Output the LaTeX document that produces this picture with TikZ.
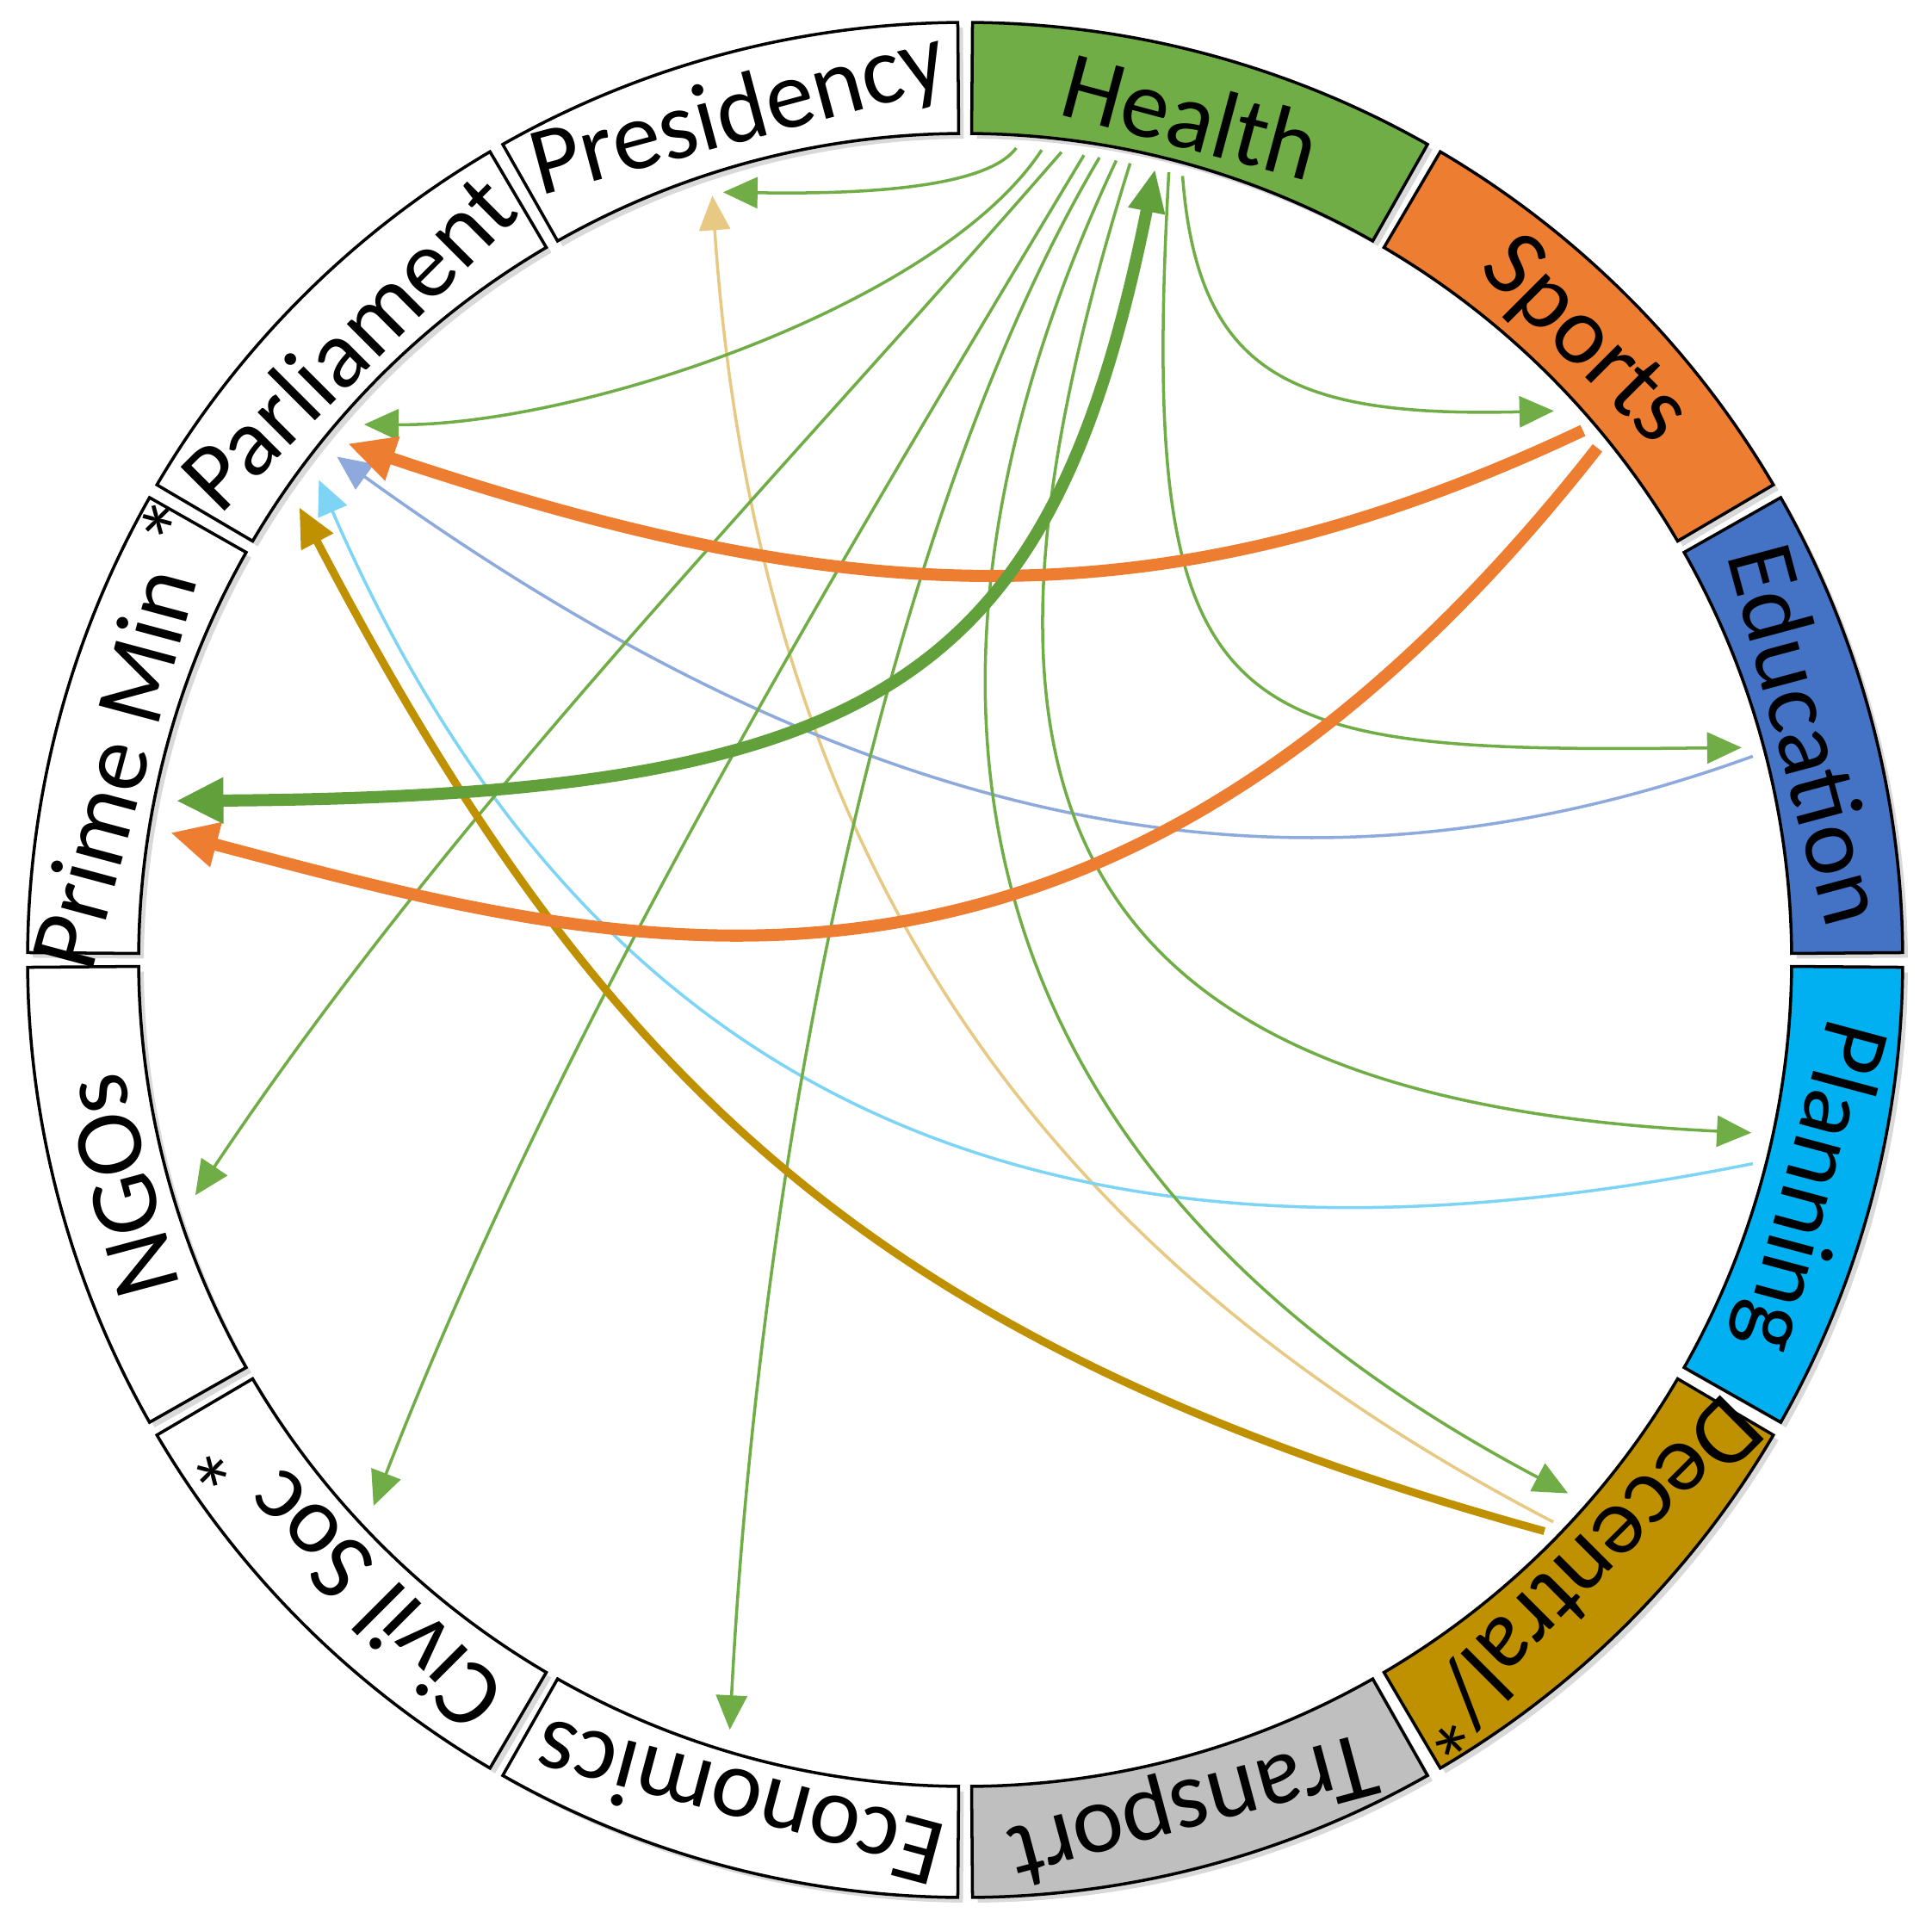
\documentclass[tikz,border=0pt]{standalone}
\usepackage{fontspec}
\setmainfont{Carlito}
\usetikzlibrary{arrows.meta,shadows}
\definecolor{hgreen}{HTML}{70AD47}
\definecolor{dgreen}{HTML}{62A03C}
\definecolor{sorange}{HTML}{ED7D31}
\definecolor{eblue}{HTML}{4472C4}
\definecolor{pcyan}{HTML}{00B0F0}
\definecolor{dgold}{HTML}{BF9000}
\definecolor{tgrey}{HTML}{BFBFBF}
\definecolor{lblue}{HTML}{8EA9DB}
\definecolor{lcyan}{HTML}{7DD4F5}
\definecolor{lgold}{HTML}{E8C984}
\tikzset{
  seg/.style={draw=black, line width=1pt,
    drop shadow={opacity=0.3, shadow xshift=0.06cm, shadow yshift=-0.06cm}},
  seglabel/.style={font=\fontsize{32}{38}\selectfont, anchor=center},
  thinchord/.style={line width=1pt, -{Triangle[length=0.4cm,width=0.36cm]}},
  thickchord/.style={line width=4pt, -{Triangle[length=0.55cm,width=0.5cm]}},
  midchord/.style={line width=2.6pt, -{Triangle[length=0.45cm,width=0.4cm]}},
}
\begin{document}
\begin{tikzpicture}
  \useasboundingbox (-11.21,-11.13) rectangle (11.23,11.15);
  \foreach \a/\lab/\col/\nm in {90/Health/hgreen/hea, 60/Sports/sorange/spo,
      30/Education/eblue/edu, 0/Planning/pcyan/pla, -30/{Decentral/*}/dgold/dec,
      -60/Transport/tgrey/tra, -90/Economics/white/eco, -120/{Civil Soc *}/white/civ,
      -150/NGOs/white/ngo, 180/{Prime Min *}/white/pri, 150/Parliament/white/par,
      120/Presidency/white/pre} {
    \draw[seg, fill=\col] (\a-0.45:9.6) arc[start angle=\a-0.45, end angle=\a-29.55, radius=9.6]
      -- (\a-29.55:10.89) arc[start angle=\a-29.55, end angle=\a-0.45, radius=10.89] -- cycle;
    \node[seglabel, rotate=\a-105] (\nm) at (\a-15:10.15) {\lab};
  }
  \coordinate (hea-pre) at (86.4:9.45);
  \coordinate (hea-par) at (84.6:9.45);
  \coordinate (hea-ngo) at (83.2:9.45);
  \coordinate (hea-civ) at (81.6:9.45);
  \coordinate (hea-eco) at (80.5:9.45);
  \coordinate (hea-dec) at (79.3:9.45);
  \coordinate (hea-pla) at (78.3:9.45);
  \coordinate (hea-pri) at (76.5:9.45);
  \coordinate (hea-edu) at (75.5:9.45);
  \coordinate (hea-spo) at (74.5:9.45);
  \coordinate (spo-par) at (40.6:9.45);
  \coordinate (spo-pri) at (39:9.45);
  \coordinate (spo-hea) at (43:9.35);
  \coordinate (edu-par) at (14.5:9.45);
  \coordinate (edu-hea) at (15.3:9.35);
  \coordinate (pla-par) at (-14.5:9.45);
  \coordinate (pla-hea) at (-12.4:9.35);
  \coordinate (dec-par) at (-44.6:9.45);
  \coordinate (dec-pre) at (-43.7:9.45);
  \coordinate (dec-hea) at (-41.5:9.35);
  \coordinate (eco-hea) at (-107:9.35);
  \coordinate (civ-hea) at (-137.3:9.35);
  \coordinate (ngo-hea) at (-163:9.35);
  \coordinate (pri-hea) at (168.6:9.35);
  \coordinate (pri-spo) at (170.9:9.35);
  \coordinate (par-hea) at (138.3:9.35);
  \coordinate (par-spo) at (140.1:9.35);
  \coordinate (par-edu) at (141.3:9.35);
  \coordinate (par-pla) at (143.4:9.35);
  \coordinate (par-dec) at (145.8:9.35);
  \coordinate (pre-hea) at (107.5:9.35);
  \coordinate (pre-dec) at (108.3:9.35);

  \draw[thinchord, lgold] (dec-pre) .. controls (1.0,-3.5) and (-2.4,1.0) .. (pre-dec);
  \draw[thinchord, lblue] (edu-par) .. controls (4,0.5) and (-1,1.3) .. (par-edu);
  \draw[thinchord, lcyan] (pla-par) .. controls (2,-3.8) and (-4,-2.5) .. (par-pla);
  \draw[thinchord, hgreen] (hea-pre) .. controls (0.2,8.9) and (-1.6,8.9) .. (pre-hea);
  \draw[thinchord, hgreen] (hea-par) .. controls (-0.3,7.6) and (-4.5,6.2) .. (par-hea);
  \draw[thinchord, hgreen] (hea-ngo) .. controls (-2.3,5.45) and (-5.94,1.76) .. (ngo-hea);
  \draw[thinchord, hgreen] (hea-civ) .. controls (-1.67,4.27) and (-4.72,-0.81) .. (civ-hea);
  \draw[thinchord, hgreen] (hea-eco) .. controls (-1.0,5) and (-2.4,-2.5) .. (eco-hea);
  \draw[thinchord, hgreen] (hea-dec) .. controls (-1.2,3) and (0,-2.5) .. (dec-hea);
  \draw[thinchord, hgreen] (hea-pla) .. controls (-0.2,2.5) and (0.5,-1.6) .. (pla-hea);
  \draw[thinchord, hgreen] (hea-edu) .. controls (2.0,2.6) and (3,2.4) .. (edu-hea);
  \draw[thinchord, hgreen] (hea-spo) .. controls (2.7,6.8) and (3.8,6.3) .. (spo-hea);
  \draw[midchord, dgold] (dec-par) .. controls (-1,-4.5) and (-4.2,-1.5) .. (par-dec);
  \draw[thickchord, sorange] (spo-par) .. controls (2.2,3.8) and (-1.5,4.1) .. (par-spo);
  \draw[thickchord, sorange] (spo-pri) .. controls (1.5,-1.5) and (-4,0.1) .. (pri-spo);
  \draw[thickchord, dgreen, {Triangle[length=0.5cm,width=0.4cm]}-{Triangle[length=0.55cm,width=0.5cm]}]
    (hea-pri) .. controls (1.0,3.2) and (-1.0,1.9) .. (pri-hea);
\end{tikzpicture}
\end{document}
